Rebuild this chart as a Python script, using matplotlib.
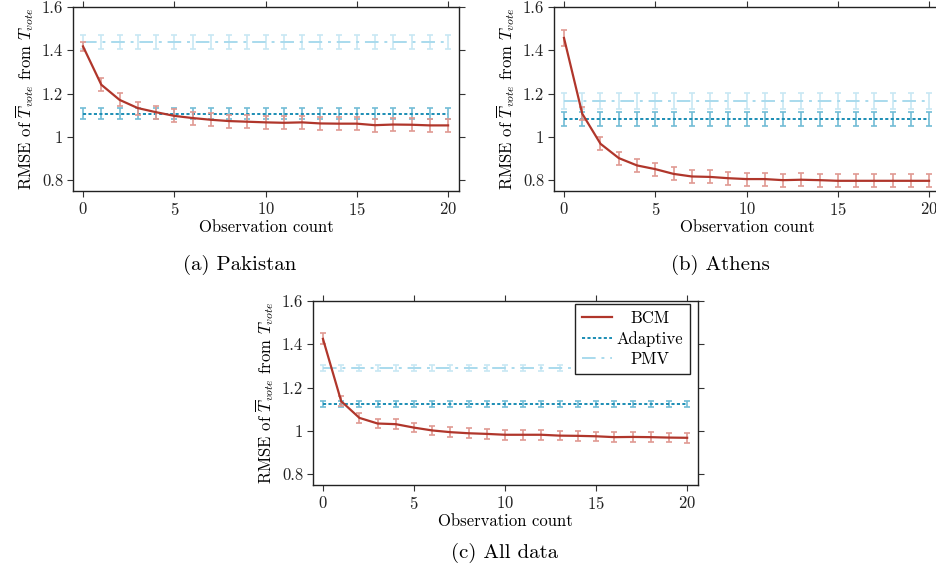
import matplotlib
matplotlib.use("Agg")
import matplotlib.pyplot as plt

plt.rcParams['font.family'] = 'serif'
plt.rcParams['font.serif'] = ['cmr10', 'DejaVu Serif']
plt.rcParams['mathtext.fontset'] = 'cm'
plt.rcParams['axes.formatter.use_mathtext'] = True

obs = list(range(21))

# Pakistan
bcm_a = [1.418, 1.241, 1.171, 1.133, 1.114, 1.097, 1.087, 1.079, 1.073, 1.070, 1.067,
         1.065, 1.067, 1.062, 1.061, 1.061, 1.054, 1.057, 1.056, 1.053, 1.053]
bcm_a_err = [0.02] + [0.03] * 20
adapt_a, adapt_a_err = 1.107, 0.026
pmv_a, pmv_a_err = 1.44, 0.032

# Athens
bcm_b = [1.457, 1.107, 0.968, 0.902, 0.868, 0.851, 0.829, 0.817, 0.815, 0.809, 0.805,
         0.805, 0.800, 0.802, 0.800, 0.797, 0.797, 0.797, 0.797, 0.797, 0.797]
bcm_b_err = [0.038] + [0.03] * 20
adapt_b, adapt_b_err = 1.082, 0.034
pmv_b, pmv_b_err = 1.165, 0.037

# All data
bcm_c = [1.425, 1.137, 1.060, 1.034, 1.031, 1.015, 1.002, 0.994, 0.989, 0.986, 0.982,
         0.982, 0.982, 0.978, 0.977, 0.975, 0.971, 0.972, 0.971, 0.969, 0.968]
bcm_c_err = [0.025] + [0.022] * 20
adapt_c, adapt_c_err = 1.125, 0.015
pmv_c, pmv_c_err = 1.29, 0.015

c_bcm, c_bcm_e = '#b0362b', '#e09a92'
c_ad, c_ad_e = '#1b8db4', '#72bcd6'
c_pmv, c_pmv_e = '#a9daed', '#c8e8f4'

fig = plt.figure(figsize=(9.37, 5.73), dpi=100)
ax_a = fig.add_axes([0.0779, 0.6667, 0.412, 0.3211])
ax_b = fig.add_axes([0.5912, 0.6667, 0.412, 0.3211])
ax_c = fig.add_axes([0.334, 0.1536, 0.411, 0.3211])


def panneau(ax, bcm, bcm_err, adapt, adapt_err, pmv, pmv_err):
    n = len(obs)
    ax.errorbar(obs, [pmv] * n, yerr=pmv_err, fmt='none', ecolor=c_pmv_e,
                elinewidth=1.2, capsize=2, capthick=1.2, zorder=2)
    ax.plot(obs, [pmv] * n, color=c_pmv, lw=1.4, ls=(0, (7, 3, 1.5, 3)),
            label='PMV', zorder=3)
    ax.errorbar(obs, [adapt] * n, yerr=adapt_err, fmt='none', ecolor=c_ad_e,
                elinewidth=1.2, capsize=2, capthick=1.2, zorder=2)
    ax.plot(obs, [adapt] * n, color=c_ad, lw=1.4, ls=(0, (1.6, 1.2)),
            label='Adaptive', zorder=3)
    ax.errorbar(obs, bcm, yerr=bcm_err, fmt='none', ecolor=c_bcm_e,
                elinewidth=1.2, capsize=2, capthick=1.2, zorder=4)
    ax.plot(obs, bcm, color=c_bcm, lw=1.6, label='BCM', zorder=5)
    ax.set_xlim(-0.55, 20.6)
    ax.set_ylim(0.75, 1.6)
    ax.set_xticks([0, 5, 10, 15, 20])
    ax.set_yticks([0.8, 1.0, 1.2, 1.4, 1.6])
    ax.set_yticklabels(['0.8', '1', '1.2', '1.4', '1.6'])
    ax.tick_params(direction='out', length=4, width=0.8, labelsize=12, pad=3,
                   top=True, right=True, colors='#333333', labelcolor='#222222')
    for s in ax.spines.values():
        s.set_linewidth(1.0)
        s.set_color('#222222')
    ax.set_xlabel('Observation count', fontsize=12, labelpad=1.5)
    ax.set_ylabel(r'RMSE of $\overline{T}_{vote}$ from $T_{vote}$', fontsize=12, labelpad=4)


panneau(ax_a, bcm_a, bcm_a_err, adapt_a, adapt_a_err, pmv_a, pmv_a_err)
panneau(ax_b, bcm_b, bcm_b_err, adapt_b, adapt_b_err, pmv_b, pmv_b_err)
panneau(ax_c, bcm_c, bcm_c_err, adapt_c, adapt_c_err, pmv_c, pmv_c_err)

h, l = ax_c.get_legend_handles_labels()
leg = ax_c.legend(h[::-1], l[::-1], loc='upper right', bbox_to_anchor=(0.979, 0.984),
                  borderaxespad=0, fontsize=12, frameon=True, fancybox=False,
                  framealpha=1, edgecolor='#222222', handlelength=1.8, borderpad=0.4,
                  labelspacing=0.3, handletextpad=0.3)
leg.get_frame().set_linewidth(1.0)
leg.set_zorder(10)

# centrer les textes de la légende
fig.canvas.draw()
r = fig.canvas.get_renderer()
largeurs = [t.get_window_extent(r).width for t in leg.get_texts()]
wmax = max(largeurs)
for t, w in zip(leg.get_texts(), largeurs):
    t.set_position(((wmax - w) / 2, 0))

fig.text(240 / 937, 1 - 265 / 573, '(a) Pakistan', ha='center', va='center', fontsize=15)
fig.text(720 / 937, 1 - 265 / 573, '(b) Athens', ha='center', va='center', fontsize=15)
fig.text(505 / 937, 1 - 553 / 573, '(c) All data', ha='center', va='center', fontsize=15)

fig.savefig('out.png', dpi=100)
